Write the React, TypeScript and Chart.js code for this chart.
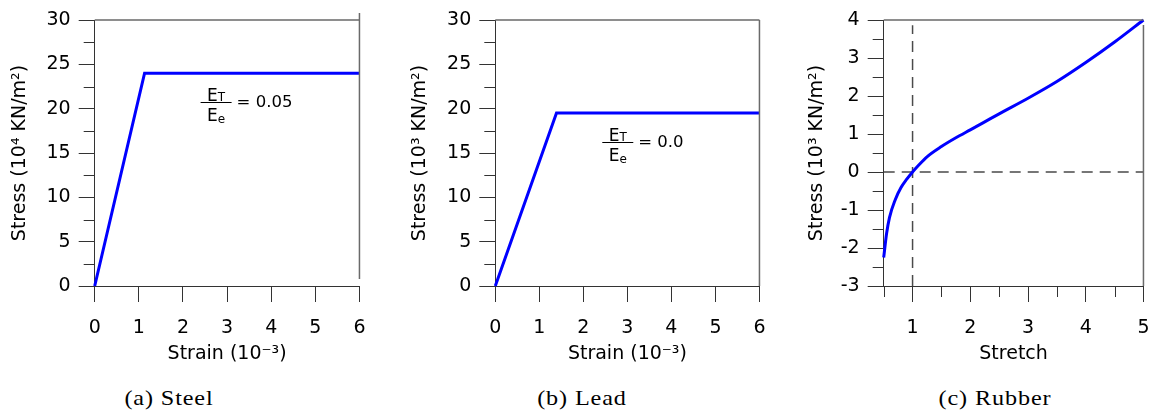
import React, { useEffect, useRef } from 'react';
import { Chart, registerables } from 'chart.js';

Chart.register(...registerables);

// ---------------- data ----------------
const steelStrain = [0, 1.13, 6];
const steelStress = [0, 24, 24];

const leadStrain = [0, 1.39, 6];
const leadStress = [0, 19.5, 19.5];

const rubberStretch = [0.5, 0.55, 0.6, 0.7, 0.8, 0.9, 1.0, 1.1, 1.25, 1.5, 1.75, 2.0, 2.25, 2.5, 3.0, 3.5, 4.0, 4.5, 5.0];
const rubberStress = [-2.25, -1.62, -1.2, -0.73, -0.41, -0.19, 0, 0.17, 0.4, 0.67, 0.9, 1.11, 1.32, 1.53, 1.94, 2.38, 2.88, 3.42, 4.0];

const strainTicks = [0, 1, 2, 3, 4, 5, 6];
const stressTicks = [0, 5, 10, 15, 20, 25, 30];
const stressMinor = [2.5, 7.5, 12.5, 17.5, 22.5, 27.5];

const stretchTicks = [1, 2, 3, 4, 5];
const stretchMinor = [0.5, 1.5, 2.5, 3.5, 4.5];
const rubberTicks = [-3, -2, -1, 0, 1, 2, 3, 4];
const rubberMinor = [-2.5, -1.5, -0.5, 0.5, 1.5, 2.5, 3.5];

const refLineX = [1, 1];
const refLineXY = [-3, 3.86];
const refLineY = [0.5, 5];
const refLineYY = [0, 0];

// ---------------- style ----------------
const SANS = '"DejaVu Sans", "Liberation Sans", sans-serif';
const AXIS_COLOR = '#333333';
const FRAME_COLOR = '#6a6a6a';
const BLUE = '#0000ff';
const CANVAS_H = 372;
const AXIS_BOTTOM = 286;
const MINOR_LEN = 11;

type Note = { x: number; y: number; value: string };

type PanelCfg = {
  left: number;
  width: number;
  yWidth: number;
  padRight: number;
  yTitlePad: number;
  yLabelPad: number;
  xMin: number;
  xMax: number;
  yMin: number;
  yMax: number;
  xTicks: number[];
  yTicks: number[];
  xMinor: number[];
  yMinor: number[];
  xTitle: string;
  yTitle: string;
  rightTop: number;
  rightBottom: number;
  note?: Note;
  datasets: any[];
  caption: string;
  captionCenter: number;
};

function pts(xs: number[], ys: number[]) {
  return xs.map((x, i) => ({ x, y: ys[i] }));
}

function blueLine(xs: number[], ys: number[], smooth = false) {
  return {
    data: pts(xs, ys),
    borderColor: BLUE,
    borderWidth: 3,
    pointRadius: 0,
    fill: false,
    tension: 0,
    cubicInterpolationMode: smooth ? 'monotone' : 'default',
    clip: false,
    order: 0,
  };
}

function dashLine(xs: number[], ys: number[]) {
  return {
    data: pts(xs, ys),
    borderColor: '#4a4a4a',
    borderWidth: 1.5,
    borderDash: [11, 7],
    pointRadius: 0,
    fill: false,
    tension: 0,
    order: 1,
  };
}

function makeFramePlugin(p: PanelCfg) {
  return {
    id: 'frameAndNotes',
    afterDraw(chart: any) {
      const { ctx, chartArea: a, scales } = chart;
      const xs = scales.x;
      const ys = scales.y;
      ctx.save();
      // minor ticks
      ctx.strokeStyle = AXIS_COLOR;
      ctx.lineWidth = 1;
      ctx.beginPath();
      p.yMinor.forEach((v) => {
        const y = Math.round(ys.getPixelForValue(v)) + 0.5;
        ctx.moveTo(a.left - MINOR_LEN, y);
        ctx.lineTo(a.left, y);
      });
      p.xMinor.forEach((v) => {
        const x = Math.round(xs.getPixelForValue(v)) + 0.5;
        ctx.moveTo(x, a.bottom);
        ctx.lineTo(x, a.bottom + MINOR_LEN);
      });
      ctx.stroke();
      // frame (top + right)
      ctx.strokeStyle = FRAME_COLOR;
      ctx.lineWidth = 1.5;
      ctx.beginPath();
      ctx.moveTo(a.left, a.top);
      ctx.lineTo(a.right, a.top);
      ctx.moveTo(a.right, a.top + p.rightTop);
      ctx.lineTo(a.right, a.bottom + p.rightBottom);
      ctx.stroke();
      // annotation  E_T / E_e = value
      if (p.note) {
        const x0 = xs.getPixelForValue(p.note.x);
        const y0 = Math.round(ys.getPixelForValue(p.note.y)) + 0.5;
        const w = 31;
        ctx.strokeStyle = '#000';
        ctx.lineWidth = 1;
        ctx.beginPath();
        ctx.moveTo(x0, y0);
        ctx.lineTo(x0 + w, y0);
        ctx.stroke();
        ctx.fillStyle = '#000';
        ctx.textAlign = 'left';
        ctx.textBaseline = 'alphabetic';
        ctx.font = `17px ${SANS}`;
        const eW = ctx.measureText('E').width;
        ctx.font = `12px ${SANS}`;
        const tW = ctx.measureText('T').width;
        const sW = ctx.measureText('e').width;
        let nx = x0 + (w - eW - tW) / 2;
        ctx.font = `17px ${SANS}`;
        ctx.fillText('E', nx, y0 - 2);
        ctx.font = `12px ${SANS}`;
        ctx.fillText('T', nx + eW, y0 - 1.5);
        nx = x0 + (w - eW - sW) / 2;
        ctx.font = `17px ${SANS}`;
        ctx.fillText('E', nx, y0 + 18);
        ctx.font = `12px ${SANS}`;
        ctx.fillText('e', nx + eW, y0 + 20);
        ctx.font = `16.5px ${SANS}`;
        ctx.textBaseline = 'middle';
        ctx.fillText(p.note.value, x0 + w + 5, y0);
      }
      ctx.restore();
    },
  };
}

const panels: PanelCfg[] = [
  {
    left: 0,
    width: 380,
    yWidth: 94.7,
    padRight: 18.3,
    yTitlePad: 8.6,
    yLabelPad: 8,
    xMin: 0,
    xMax: 6,
    yMin: 0,
    yMax: 30,
    xTicks: strainTicks,
    yTicks: stressTicks,
    xMinor: [],
    yMinor: stressMinor,
    xTitle: 'Strain (10⁻³)',
    yTitle: 'Stress (10⁴ KN/m²)',
    rightTop: -7,
    rightBottom: -7,
    note: { x: 2.4, y: 20.72, value: '= 0.05' },
    datasets: [blueLine(steelStrain, steelStress)],
    caption: '(a) Steel',
    captionCenter: 168.5,
  },
  {
    left: 390,
    width: 390,
    yWidth: 105.3,
    padRight: 17.7,
    yTitlePad: 18.6,
    yLabelPad: 8,
    xMin: 0,
    xMax: 6,
    yMin: 0,
    yMax: 30,
    xTicks: strainTicks,
    yTicks: stressTicks,
    xMinor: [],
    yMinor: stressMinor,
    xTitle: 'Strain (10⁻³)',
    yTitle: 'Stress (10³ KN/m²)',
    rightTop: 0,
    rightBottom: 0,
    note: { x: 2.43, y: 16.27, value: '= 0.0' },
    datasets: [blueLine(leadStrain, leadStress)],
    caption: '(b) Lead',
    captionCenter: 581.7,
  },
  {
    left: 780,
    width: 384,
    yWidth: 103.7,
    padRight: 13.7,
    yTitlePad: 25.3,
    yLabelPad: 8,
    xMin: 0.5,
    xMax: 5,
    yMin: -3,
    yMax: 4,
    xTicks: stretchTicks,
    yTicks: rubberTicks,
    xMinor: stretchMinor,
    yMinor: rubberMinor,
    xTitle: 'Stretch',
    yTitle: 'Stress (10³ KN/m²)',
    rightTop: 5,
    rightBottom: 0,
    datasets: [
      blueLine(rubberStretch, rubberStress, true),
      dashLine(refLineX, refLineXY),
      dashLine(refLineY, refLineYY),
    ],
    caption: '(c) Rubber',
    captionCenter: 994.5,
  },
];

function Panel({ p }: { p: PanelCfg }) {
  const ref = useRef<HTMLCanvasElement | null>(null);
  useEffect(() => {
    const canvas = ref.current;
    if (!canvas) return;
    const tickFont = { family: SANS, size: 19, lineHeight: 1.2 };
    const titleFont = { family: SANS, size: 19, lineHeight: 1.2 };
    const chart = new Chart(canvas, {
      type: 'line',
      data: { datasets: p.datasets as any },
      options: {
        animation: false,
        responsive: false,
        devicePixelRatio: 1,
        layout: { padding: { left: 0, right: p.padRight, top: 20, bottom: 0 } },
        plugins: { legend: { display: false }, tooltip: { enabled: false } },
        scales: {
          x: {
            type: 'linear',
            min: p.xMin,
            max: p.xMax,
            afterBuildTicks: (s: any) => {
              s.ticks = p.xTicks.map((v) => ({ value: v }));
            },
            afterFit: (s: any) => {
              s.height = CANVAS_H - AXIS_BOTTOM;
            },
            grid: {
              display: true,
              drawOnChartArea: false,
              drawTicks: true,
              tickLength: 16,
              color: AXIS_COLOR,
              lineWidth: 1,
            },
            border: { display: true, color: AXIS_COLOR, width: 1 },
            ticks: {
              font: tickFont,
              color: '#000',
              padding: 14.5,
              maxRotation: 0,
              autoSkip: false,
              callback: (v: any) => String(v),
            },
            title: {
              display: true,
              text: p.xTitle,
              font: titleFont,
              color: '#000',
              padding: { top: 0, bottom: 7 },
            },
          },
          y: {
            type: 'linear',
            position: 'left',
            min: p.yMin,
            max: p.yMax,
            afterBuildTicks: (s: any) => {
              s.ticks = p.yTicks.map((v) => ({ value: v }));
            },
            afterFit: (s: any) => {
              s.width = p.yWidth;
            },
            grid: {
              display: true,
              drawOnChartArea: false,
              drawTicks: true,
              tickLength: 16,
              color: AXIS_COLOR,
              lineWidth: 1,
            },
            border: { display: true, color: AXIS_COLOR, width: 1 },
            ticks: {
              font: tickFont,
              color: '#000',
              padding: p.yLabelPad,
              autoSkip: false,
              callback: (v: any) => String(v),
            },
            title: {
              display: true,
              text: p.yTitle,
              font: titleFont,
              color: '#000',
              padding: { top: p.yTitlePad, bottom: 0 },
            },
          },
        },
      },
      plugins: [makeFramePlugin(p)],
    } as any);
    return () => chart.destroy();
  }, [p]);

  return (
    <>
      <canvas
        ref={ref}
        width={p.width}
        height={CANVAS_H}
        style={{ position: 'absolute', left: p.left, top: 0, width: p.width, height: CANVAS_H }}
      />
      <div
        style={{
          position: 'absolute',
          left: p.captionCenter - 100,
          width: 200,
          top: 386.6,
          textAlign: 'center',
          fontFamily: '"Liberation Serif", "Times New Roman", serif',
          fontWeight: 400,
          fontSize: 22,
          lineHeight: '22px',
          letterSpacing: '0.8px',
          color: '#000',
          transform: 'scaleX(1.1)',
          transformOrigin: 'center',
          whiteSpace: 'nowrap',
        }}
      >
        {p.caption}
      </div>
    </>
  );
}

export default function App() {
  return (
    <div
      style={{
        position: 'absolute',
        left: 0,
        top: 0,
        width: 1164,
        height: 412,
        background: '#fff',
        overflow: 'hidden',
      }}
    >
      {panels.map((p) => (
        <Panel key={p.caption} p={p} />
      ))}
    </div>
  );
}
